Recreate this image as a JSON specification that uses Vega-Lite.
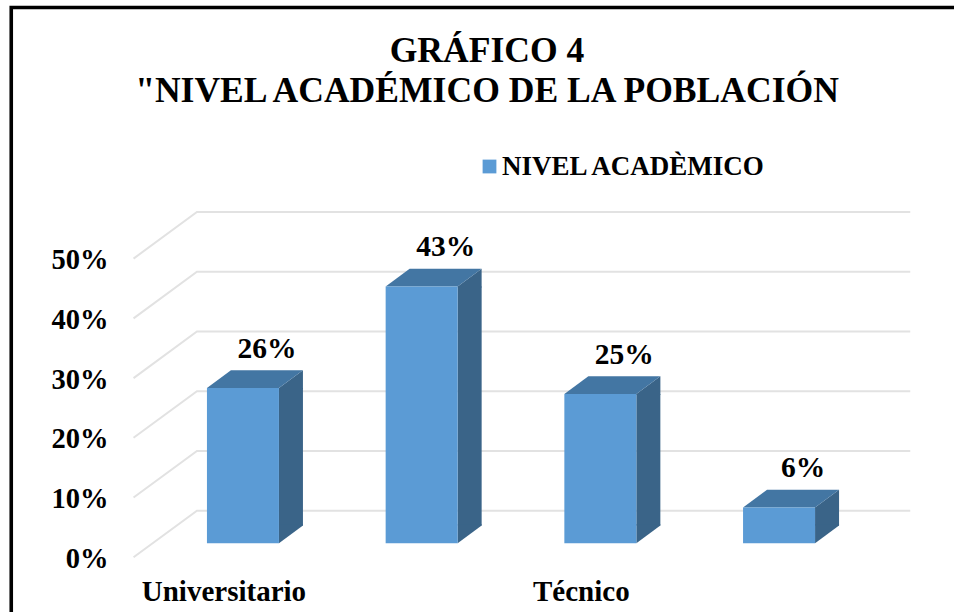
{
"$schema":"https://vega.github.io/schema/vega-lite/v6.json",
"width":954,"height":612,"padding":0,"autosize":{"type":"none"},
"background":"white",
"config":{"view":{"stroke":null},"font":"Liberation Serif"},
"title":{"text":["GRÁFICO 4","\"NIVEL  ACADÉMICO DE LA POBLACIÓN"],"font":"Liberation Serif","fontWeight":"bold","fontSize":35.6,"lineHeight":40,"color":"#000000","anchor":"middle","frame":"group","dx":10,"offset":-138,"baseline":"alphabetic"},
"datasets":{
"barras":[
{"nivel":"Universitario","porcentaje":26,"etiqueta":"26%","serie":"NIVEL ACADÈMICO"},
{"nivel":"Categoría 2","porcentaje":43,"etiqueta":"43%","serie":"NIVEL ACADÈMICO"},
{"nivel":"Técnico","porcentaje":25,"etiqueta":"25%","serie":"NIVEL ACADÈMICO"},
{"nivel":"Categoría 4","porcentaje":6,"etiqueta":"6%","serie":"NIVEL ACADÈMICO"}],
"marcas":[{"marca":0},{"marca":10},{"marca":20},{"marca":30},{"marca":40},{"marca":50}],
"marco":[{"marca":0}]
},
"layer":[
{"data":{"name":"marco"},
 "mark":{"type":"point","filled":false,"opacity":1,"size":4,"stroke":"#000000","strokeWidth":3.6,"fill":null,"shape":"M-231.7,75 L-231.7,-535.8 L715,-535.8"},
 "encoding":{"x":{"datum":"Universitario","type":"nominal","scale":{"type":"band","domain":["Universitario","Categoría 2","Técnico","Categoría 4"],"range":[153.6,868.4],"padding":0},
   "axis":{"values":["Universitario","Técnico"],"title":null,"domain":false,"ticks":false,"labelAngle":0,"labelFont":"Liberation Serif","labelFontWeight":"bold","labelFontSize":29,"labelColor":"#000000","labelOffset":-19,"labelPadding":0,"labelBaseline":"alphabetic","offset":-11.4,"labelOverlap":false,"grid":false}},
  "y":{"field":"marca","type":"quantitative","scale":{"domain":[-11.5,90.94],"nice":false,"zero":false},
   "axis":{"values":[0,10,20,30,40,50],"labelExpr":"datum.value + '%'","title":null,"domain":false,"ticks":false,"grid":false,"labelFont":"Liberation Serif","labelFontWeight":"bold","labelFontSize":28.5,"labelColor":"#000000","labelOffset":15,"labelPadding":0,"offset":-108,"labelBaseline":"middle"}}}},
{"data":{"name":"marcas"},
 "mark":{"type":"point","filled":false,"opacity":1,"size":4,"stroke":"#e2e2e2","strokeWidth":2,"fill":null,"shape":"M-109.4,14 L-46,-32.6 L667.3,-32.6"},
 "encoding":{"x":{"datum":"Universitario","type":"nominal"},"y":{"field":"marca","type":"quantitative"}}},
{"data":{"name":"barras"},
 "mark":{"type":"bar","width":24,"xOffset":48,"y2Offset":-17.7,"color":"#3a6488"},
 "encoding":{"x":{"field":"nivel","type":"nominal"},"y":{"field":"porcentaje","type":"quantitative"},"y2":{"datum":0}}},
{"data":{"name":"barras"},
 "mark":{"type":"point","filled":true,"opacity":1,"size":4,"color":"#3a6488","strokeWidth":0,"shape":"M36,1 L36,0 L60,-17.7 L60,1 Z"},
 "encoding":{"x":{"field":"nivel","type":"nominal"},"y":{"field":"porcentaje","type":"quantitative"}}},
{"data":{"name":"barras"},
 "mark":{"type":"point","filled":true,"opacity":1,"size":4,"color":"#3a6488","strokeWidth":0,"shape":"M36,-19 L36,0 L60,-17.7 L60,-19 Z"},
 "encoding":{"x":{"field":"nivel","type":"nominal"},"y":{"datum":0,"type":"quantitative"}}},
{"data":{"name":"barras"},
 "mark":{"type":"point","filled":true,"opacity":1,"size":4,"color":"#4376a3","strokeWidth":0,"shape":"M-36,0 L36,0 L60,-17.7 L-12,-17.7 Z"},
 "encoding":{"x":{"field":"nivel","type":"nominal"},"y":{"field":"porcentaje","type":"quantitative"}}},
{"data":{"name":"barras"},
 "mark":{"type":"bar","width":72},
 "encoding":{"x":{"field":"nivel","type":"nominal"},"y":{"field":"porcentaje","type":"quantitative"},"y2":{"datum":0},
  "color":{"field":"serie","type":"nominal","scale":{"domain":["NIVEL ACADÈMICO"],"range":["#5B9BD5"]},
   "legend":{"title":null,"orient":"none","legendX":476,"legendY":153,"symbolType":"square","symbolSize":190,"symbolStrokeWidth":0,"labelFont":"Liberation Serif","labelFontWeight":"bold","labelFontSize":27,"labelColor":"#000000","labelLimit":400,"labelOffset":-1,"padding":0}}}},
{"data":{"name":"barras"},
 "mark":{"type":"text","font":"Liberation Serif","fontWeight":"bold","fontSize":29.5,"color":"#000000","dx":24,"dy":-30,"baseline":"alphabetic","align":"center"},
 "encoding":{"x":{"field":"nivel","type":"nominal"},"y":{"field":"porcentaje","type":"quantitative"},"text":{"field":"etiqueta","type":"nominal"}}}
]
}
